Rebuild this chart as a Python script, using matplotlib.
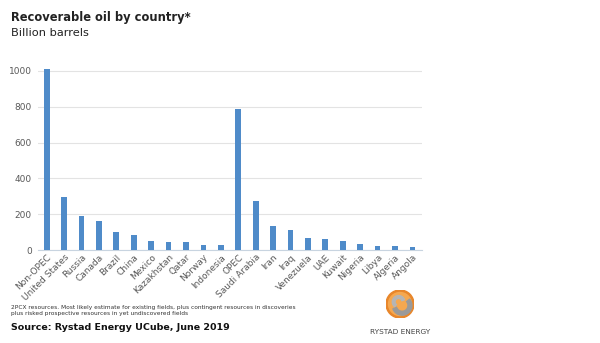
"""Recoverable oil by country, Rystad Energy style bar chart."""

import matplotlib.pyplot as plt
from matplotlib.patches import Circle, Wedge

countries = [
    "Non-OPEC", "United States", "Russia", "Canada", "Brazil", "China",
    "Mexico", "Kazakhstan", "Qatar", "Norway", "Indonesia", "OPEC",
    "Saudi Arabia", "Iran", "Iraq", "Venezuela", "UAE", "Kuwait",
    "Nigeria", "Libya", "Algeria", "Angola",
]
reserves = [
    1012, 296, 190, 162, 100, 84,
    52, 43, 43, 28, 26, 790,
    272, 132, 112, 69, 63, 52,
    34, 24, 24, 19,
]
y_ticks = [0, 200, 400, 600, 800, 1000]

BAR_COLOR = "#4F8BC9"
TEXT_GRAY = "#595959"

fig = plt.figure(figsize=(6.0, 3.43), dpi=100)
ax = fig.add_axes([38 / 600, 1 - 250 / 343, (422 - 38) / 600, (250 - 62) / 343])

positions = list(range(len(countries)))
ax.bar(positions, reserves, width=0.33, color=BAR_COLOR, zorder=3)

ax.set_xlim(-0.5, len(countries) - 0.45)
ax.set_ylim(0, 1050)
ax.set_yticks(y_ticks)
ax.yaxis.grid(True, color="#e3e3e3", linewidth=0.8, zorder=0)
for side in ("top", "right", "left"):
    ax.spines[side].set_visible(False)
ax.spines["bottom"].set_color("#c8d4e0")
ax.spines["bottom"].set_linewidth(0.8)
ax.tick_params(axis="y", length=0, labelsize=6.5, labelcolor=TEXT_GRAY, pad=4.5)
ax.tick_params(axis="x", length=0, labelsize=6.5, labelcolor=TEXT_GRAY, pad=2)
ax.set_xticks(positions)
ax.set_xticklabels(countries, rotation=45, ha="right", rotation_mode="anchor")

fig.text(11 / 600, 1 - 18 / 343, "Recoverable oil by country*", fontsize=8.3,
         fontweight="bold", color="#222222", va="center")
fig.text(11 / 600, 1 - 33 / 343, "Billion barrels", fontsize=8.2,
         color="#222222", va="center")

fig.text(11 / 600, 1 - 307 / 343,
         "2PCX resources. Most likely estimate for existing fields, plus contingent resources in discoveries",
         fontsize=4.2, color="#333333", va="center")
fig.text(11 / 600, 1 - 314 / 343,
         "plus risked prospective resources in yet undiscovered fields",
         fontsize=4.2, color="#333333", va="center")
fig.text(11 / 600, 1 - 328 / 343, "Source: Rystad Energy UCube, June 2019",
         fontsize=6.8, fontweight="bold", color="#111111", va="center")

# simple Rystad logo: orange globe with grey swirl
logo = fig.add_axes([386 / 600, 1 - 318 / 343, 28 / 600, 28 / 343])
logo.set_xlim(-1, 1)
logo.set_ylim(-1, 1)
logo.set_aspect("equal")
logo.axis("off")
logo.add_patch(Circle((0, 0), 1.0, color="#e8862a"))
logo.add_patch(Circle((0, 0), 0.82, color="#f5a850"))
logo.add_patch(Wedge((0.15, -0.1), 0.7, 200, 40, width=0.28, color="#9a9a9a"))
logo.add_patch(Wedge((-0.1, 0.15), 0.45, 20, 230, width=0.2, color="#b5b5b5"))
fig.text(400 / 600, 1 - 332 / 343, "RYSTAD ENERGY", fontsize=5.3,
         color="#444444", ha="center", va="center")

plt.savefig("out.png", dpi=100)
plt.close(fig)
